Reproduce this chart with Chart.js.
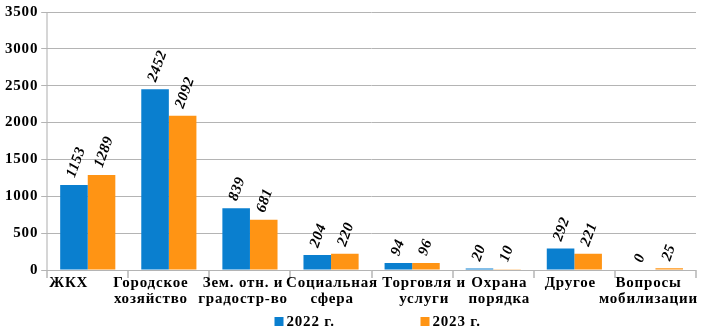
<!DOCTYPE html>
<html>
<head>
<meta charset="utf-8">
<script src="https://cdn.jsdelivr.net/npm/chart.js@4.4.0/dist/chart.umd.min.js"></script>
<style>
  html, body { margin: 0; padding: 0; background: #fff; }
  #wrap { width: 703px; height: 332px; position: relative; }
</style>
</head>
<body>
<div id="wrap"><canvas id="myChart"></canvas></div>
<script>
const categories = [
  'ЖКХ',
  ['Городское', 'хозяйство'],
  ['Зем. отн. и', 'градостр-во'],
  ['Социальная', 'сфера'],
  ['Торговля и', 'услуги'],
  ['Охрана', 'порядка'],
  'Другое',
  ['Вопросы', 'мобилизации']
];
const values2022 = [1153, 2452, 839, 204, 94, 20, 292, 0];
const values2023 = [1289, 2092, 681, 220, 96, 10, 221, 25];
const yTicks = [0, 500, 1000, 1500, 2000, 2500, 3000, 3500];

const serif = "'Liberation Serif', 'Times New Roman', serif";
// the original category captions sit a little off their column centres
const labelShift = [-19, -18, -7, 1, 12, 6, -4, -7];

const spacing = {
  id: 'spacing',
  beforeLayout(chart) { chart.ctx.letterSpacing = '0.8px'; },
  beforeDraw(chart) { chart.ctx.letterSpacing = '0.8px'; }
};

// rotated value labels above each bar
const barLabels = {
  id: 'barLabels',
  afterDatasetsDraw(chart) {
    const ctx = chart.ctx;
    ctx.save();
    ctx.letterSpacing = '0.5px';
    ctx.font = 'italic bold 15px ' + serif;
    ctx.fillStyle = '#000';
    ctx.textAlign = 'left';
    ctx.textBaseline = 'middle';
    chart.data.datasets.forEach((ds, i) => {
      chart.getDatasetMeta(i).data.forEach((bar, j) => {
        ctx.save();
        ctx.translate(bar.x - 3, bar.y - 8);
        ctx.rotate(-70 * Math.PI / 180);
        ctx.fillText(String(ds.data[j]), 0, 0);
        ctx.restore();
      });
    });
    ctx.restore();
  }
};

// category captions + legend drawn by hand
const captions = {
  id: 'captions',
  afterDraw(chart) {
    const ctx = chart.ctx;
    const xs = chart.scales.x;
    ctx.save();
    ctx.letterSpacing = '0.8px';
    ctx.font = 'bold 15px ' + serif;
    ctx.fillStyle = '#000';
    ctx.textAlign = 'center';
    ctx.textBaseline = 'middle';
    chart.data.labels.forEach((lab, i) => {
      const lines = Array.isArray(lab) ? lab : [lab];
      const x = xs.getPixelForValue(i) + labelShift[i];
      lines.forEach((t, k) => ctx.fillText(t, x, xs.top + 13 + k * 16.5));
    });

    // legend
    const mid = chart.width / 2;
    const starts = [mid - 77, mid + 69];
    const y = chart.height - 10;
    ctx.textAlign = 'left';
    chart.data.datasets.forEach((ds, i) => {
      ctx.fillStyle = ds.backgroundColor;
      ctx.fillRect(starts[i], y - 5, 9, 9);
      ctx.fillStyle = '#000';
      ctx.fillText(ds.label, starts[i] + 12, y);
    });
    ctx.restore();
  }
};

const ctx = document.getElementById('myChart');
const myChart = new Chart(ctx, {
  type: 'bar',
  data: {
    labels: categories,
    datasets: [
      {
        label: '2022 г.',
        data: values2022,
        backgroundColor: '#0a7fcf',
        categoryPercentage: 0.68,
        barPercentage: 1.0
      },
      {
        label: '2023 г.',
        data: values2023,
        backgroundColor: '#ff9414',
        categoryPercentage: 0.68,
        barPercentage: 1.0
      }
    ]
  },
  options: {
    responsive: true,
    maintainAspectRatio: false,
    animation: false,
    layout: { padding: { top: 12, right: 7, left: 2, bottom: 33 } },
    plugins: {
      tooltip: { enabled: false },
      legend: { display: false }
    },
    scales: {
      x: {
        border: { display: false },
        grid: {
          offset: true,
          drawOnChartArea: true,
          color: c => (c.index === 0 || c.index === 8) ? '#d6d6d6' : 'rgba(0,0,0,0)',
          lineWidth: 2,
          tickColor: '#c8c8c8',
          tickLength: 8
        },
        ticks: {
          color: 'rgba(0,0,0,0)',
          padding: -6,
          maxRotation: 0,
          autoSkip: false,
          font: { family: serif, size: 15, weight: 'bold', lineHeight: 1.1 }
        }
      },
      y: {
        min: 0,
        max: 3500,
        afterBuildTicks: axis => { axis.ticks = yTicks.map(v => ({ value: v })); },
        border: { display: false },
        grid: {
          color: '#b4b4b4',
          tickLength: 6
        },
        ticks: {
          color: '#000',
          padding: 3,
          callback: v => String(v),
          font: { family: serif, size: 15, weight: 'bold' }
        }
      }
    }
  },
  plugins: [spacing, barLabels, captions]
});
</script>
</body>
</html>
